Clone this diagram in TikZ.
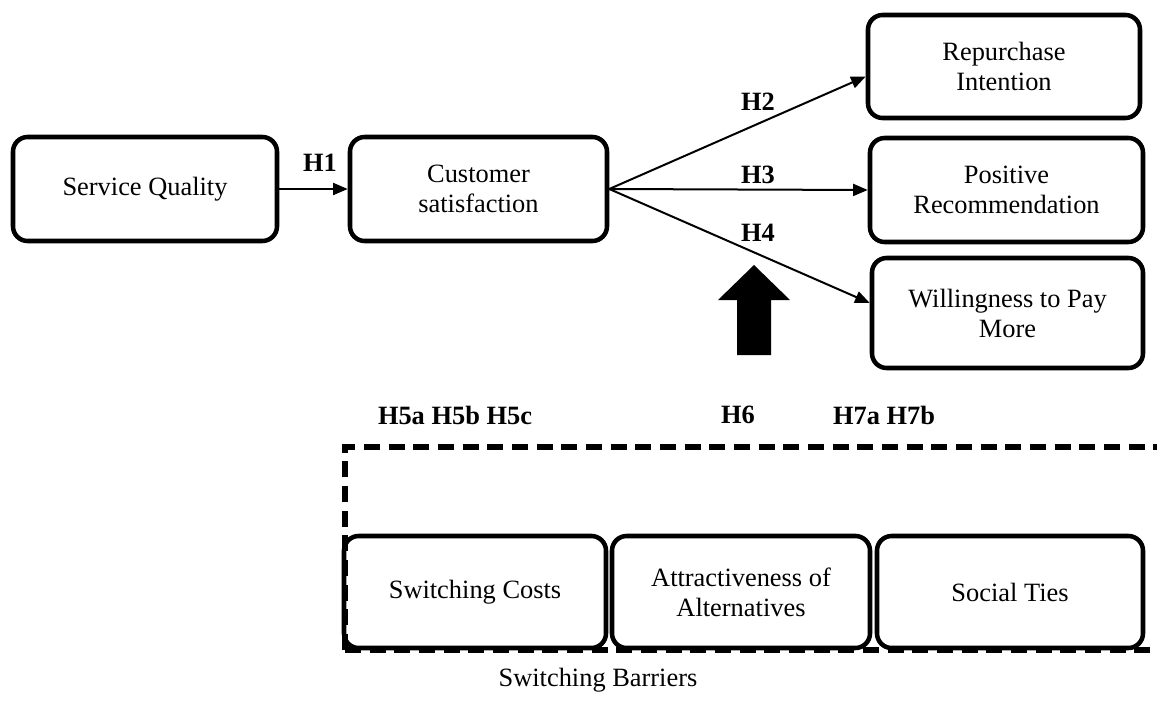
\documentclass[tikz,border=0pt]{standalone}
\usepackage{fontspec}
\setmainfont{Liberation Serif}
\usetikzlibrary{arrows.meta}
\begin{document}
\begin{tikzpicture}[x=0.75pt,y=-0.75pt,
  box/.style={draw,line width=3.4pt,rounded corners=11pt,align=center,inner sep=0pt,
    font=\fontsize{19.8}{22.5}\selectfont},
  hlab/.style={font=\fontsize{19.8}{22.5}\selectfont\bfseries,inner sep=0pt},
  conn/.style={line width=1.5pt,-{Triangle[length=11pt,width=9pt]}},
  dashbox/.style={line width=3.8pt,dash pattern=on 12pt off 6.5pt}]
\useasboundingbox (0,0) rectangle (1157,700);
% dashed group
\draw[dashbox] (345,650) -- (345,447) -- (1170,447);
\draw[dashbox] (345,650) -- (1170,650);
% boxes
\node[box,minimum width=264*0.75pt,minimum height=104*0.75pt] (sq) at (145,189) {Service Quality};
\node[box,minimum width=257*0.75pt,minimum height=104*0.75pt] (cs) at (478.5,189) {Customer\\satisfaction};
\node[box,minimum width=272*0.75pt,minimum height=103*0.75pt] (ri) at (1004,66.5) {Repurchase\\Intention};
\node[box,minimum width=273*0.75pt,minimum height=104*0.75pt] (pr) at (1006.5,190) {Positive\\Recommendation};
\node[box,minimum width=271*0.75pt,minimum height=110*0.75pt] (wp) at (1007.5,313) {Willingness to Pay\\More};
\node[box,minimum width=262*0.75pt,minimum height=112*0.75pt] (sc) at (475,592) {Switching Costs};
\node[box,minimum width=258*0.75pt,minimum height=112*0.75pt] (aa) at (741,592) {Attractiveness of\\Alternatives};
\node[box,minimum width=266*0.75pt,minimum height=112*0.75pt] (st) at (1010,592) {Social Ties};
% connectors
\draw[conn] (sq.east) -- (cs.west);
\draw[conn] (cs.east) -- ([yshift=-7.5pt]ri.west);
\draw[conn] (cs.east) -- (pr.west);
\draw[conn] (cs.east) -- ([yshift=7.5pt]wp.west);
% big arrow
\fill (737,355) -- (737,300) -- (718,300) -- (754,265) -- (790,300) -- (771,300) -- (771,355) -- cycle;
% labels
\node[hlab] (h1) at (320,163) {H1};
\node[hlab] (h2) at (758,102) {H2};
\node[hlab] (h3) at (758,175) {H3};
\node[hlab] (h4) at (758,233) {H4};
\node[hlab] (h5) at (455,415) {H5a H5b H5c};
\node[hlab] (h6) at (738,415) {H6};
\node[hlab] (h7) at (884,415) {H7a H7b};
\node[font=\fontsize{19.8}{22.5}\selectfont,inner sep=0pt] (sb) at (598,680) {Switching Barriers};
\end{tikzpicture}
\end{document}
